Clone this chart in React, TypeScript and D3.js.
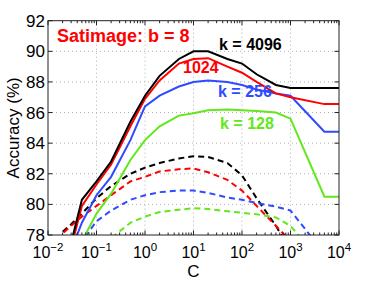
import React from 'react';
import * as d3 from 'd3';

// C values (log spaced samples)
const C = [0.01, 0.02, 0.03, 0.05, 0.1, 0.2, 0.5, 1, 2, 5, 10, 20, 50, 100, 200, 500, 1000, 5000, 10000];

// solid lines (b = 8)
const k4096 = [74, 76, 77.5, 80.3, 81.5, 82.8, 85.4, 87.1, 88.4, 89.5, 90.0, 90.0, 89.5, 89.2, 88.5, 87.8, 87.6, 87.6, 87.6];
const k1024 = [74, 75.5, 77.2, 79.9, 81.3, 82.6, 85.1, 86.9, 88.1, 89.2, 89.5, 89.55, 89.0, 88.6, 88.0, 87.25, 87.0, 86.55, 86.55];
const k256 = [74, 75.5, 77.0, 78.8, 80.6, 81.8, 84.2, 86.4, 87.1, 87.7, 88.0, 88.1, 88.0, 87.8, 87.5, 87.25, 87.1, 84.75, 84.75];
const k128 = [74, 75, 76, 77.6, 79.4, 80.7, 82.9, 84.2, 85.1, 85.8, 85.95, 86.15, 86.2, 86.15, 86.1, 86.0, 85.6, 80.5, 80.5];

// dashed lines
const k4096d = [76.5, 78.2, 78.7, 79.4, 80.4, 81.2, 82.0, 82.4, 82.7, 83.0, 83.15, 83.1, 82.7, 81.9, 80.4, 78.6, 77.0, 74, 74];
const k1024d = [76.5, 78.1, 78.6, 79.2, 79.9, 80.6, 81.5, 81.8, 82.15, 82.3, 82.35, 82.1, 81.6, 80.9, 79.9, 78.6, 77.6, 74, 74];
const k256d = [74, 75.5, 76.5, 77.6, 78.9, 79.6, 80.3, 80.6, 80.8, 80.9, 80.9, 80.75, 80.45, 80.3, 80.1, 79.85, 79.6, 76.8, 76.8];
const k128d = [72, 73, 74, 75, 76.5, 77.8, 78.8, 79.2, 79.5, 79.65, 79.75, 79.7, 79.55, 79.45, 79.35, 79.15, 78.6, 76, 76];

const yTicks = [78, 80, 82, 84, 86, 88, 90, 92];
const xExps = [-2, -1, 0, 1, 2, 3, 4];

const BLACK = '#000000', RED = '#ff0000', BLUE = '#2f4bff', GREEN = '#62e81a';

const series = [
  { v: k4096d, c: BLACK, dash: true },
  { v: k1024d, c: RED, dash: true },
  { v: k256d, c: BLUE, dash: true },
  { v: k128d, c: GREEN, dash: true },
  { v: k128, c: GREEN, dash: false },
  { v: k256, c: BLUE, dash: false },
  { v: k1024, c: RED, dash: false },
  { v: k4096, c: BLACK, dash: false },
];

const labels = [
  { t: 'Satimage: b = 8', x: 57, y: 42, c: RED, s: 18 },
  { t: 'k = 4096', x: 219, y: 50, c: BLACK, s: 16 },
  { t: '1024', x: 183, y: 73, c: RED, s: 16 },
  { t: 'k = 256', x: 218, y: 97, c: BLUE, s: 16 },
  { t: 'k = 128', x: 220, y: 129, c: GREEN, s: 16 },
];

export default function App() {
  const left = 48, right = 339, top = 20.7, bottom = 235;
  const x = d3.scaleLog().domain([1e-2, 1e4]).range([left, right]);
  const y = d3.scaleLinear().domain([78, 92]).range([bottom, top]);

  const line = d3.line<[number, number]>()
    .x(d => x(d[0]))
    .y(d => y(d[1]));

  const minor: number[] = [];
  for (let e = -2; e < 4; e++) {
    for (let m = 2; m <= 9; m++) minor.push(m * Math.pow(10, e));
  }

  const font = 'Liberation Sans, Arial, Helvetica, sans-serif';

  return (
    <svg width={374} height={281} style={{ position: 'absolute', left: 0, top: 0 }} fontFamily={font}>
      <rect width={374} height={281} fill="#fff" />
      <defs>
        <clipPath id="plot">
          <rect x={left} y={top} width={right - left} height={bottom - top} />
        </clipPath>
      </defs>

      {/* grid */}
      {xExps.slice(1, -1).map(e => (
        <line key={'gx' + e} x1={x(Math.pow(10, e))} x2={x(Math.pow(10, e))} y1={top} y2={bottom}
          stroke="#b0b0b0" strokeWidth={1} strokeDasharray="1,3" />
      ))}
      {yTicks.slice(1, -1).map(t => (
        <line key={'gy' + t} x1={left} x2={right} y1={y(t)} y2={y(t)}
          stroke="#b0b0b0" strokeWidth={1} strokeDasharray="1,3" />
      ))}

      {/* data */}
      <g clipPath="url(#plot)">
        {series.map((s, i) => (
          <path key={i} d={line(C.map((c, j) => [c, s.v[j]]) as [number, number][]) || ''}
            fill="none" stroke={s.c} strokeWidth={2}
            strokeDasharray={s.dash ? '6,4' : undefined} />
        ))}
      </g>

      {/* box and ticks */}
      <rect x={left} y={top} width={right - left} height={bottom - top} fill="none" stroke="#222" strokeWidth={1} />
      {xExps.map(e => {
        const px = x(Math.pow(10, e));
        return (
          <g key={'tx' + e}>
            <line x1={px} x2={px} y1={bottom} y2={bottom - 4.5} stroke="#222" />
            <line x1={px} x2={px} y1={top} y2={top + 4.5} stroke="#222" />
          </g>
        );
      })}
      {minor.map((m, i) => {
        const px = x(m);
        return (
          <g key={'mx' + i}>
            <line x1={px} x2={px} y1={bottom} y2={bottom - 2.5} stroke="#222" />
            <line x1={px} x2={px} y1={top} y2={top + 2.5} stroke="#222" />
          </g>
        );
      })}
      {yTicks.map(t => (
        <g key={'ty' + t}>
          <line x1={left} x2={left + 4.5} y1={y(t)} y2={y(t)} stroke="#222" />
          <line x1={right} x2={right - 4.5} y1={y(t)} y2={y(t)} stroke="#222" />
        </g>
      ))}

      {/* tick labels */}
      {yTicks.map(t => (
        <text key={'ly' + t} x={left - 3} y={y(t) + 6} textAnchor="end" fontSize={17} fill="#000">{t}</text>
      ))}
      {xExps.map(e => (
        <text key={'lx' + e} x={x(Math.pow(10, e))} y={258} textAnchor="middle" fontSize={16} fill="#000">
          10<tspan fontSize={11.5} dy={-7}>{e < 0 ? '\u2212' + Math.abs(e) : String(e)}</tspan>
        </text>
      ))}

      {/* axis labels */}
      <text x={(left + right) / 2} y={277} textAnchor="middle" fontSize={17} fill="#000">C</text>
      <text transform={`translate(19,${(top + bottom) / 2}) rotate(-90)`} textAnchor="middle" fontSize={17} fill="#000">Accuracy (%)</text>

      {/* annotations */}
      {labels.map(l => (
        <text key={l.t} x={l.x} y={l.y} fontSize={l.s} fontWeight="bold" fill={l.c}>{l.t}</text>
      ))}
    </svg>
  );
}
